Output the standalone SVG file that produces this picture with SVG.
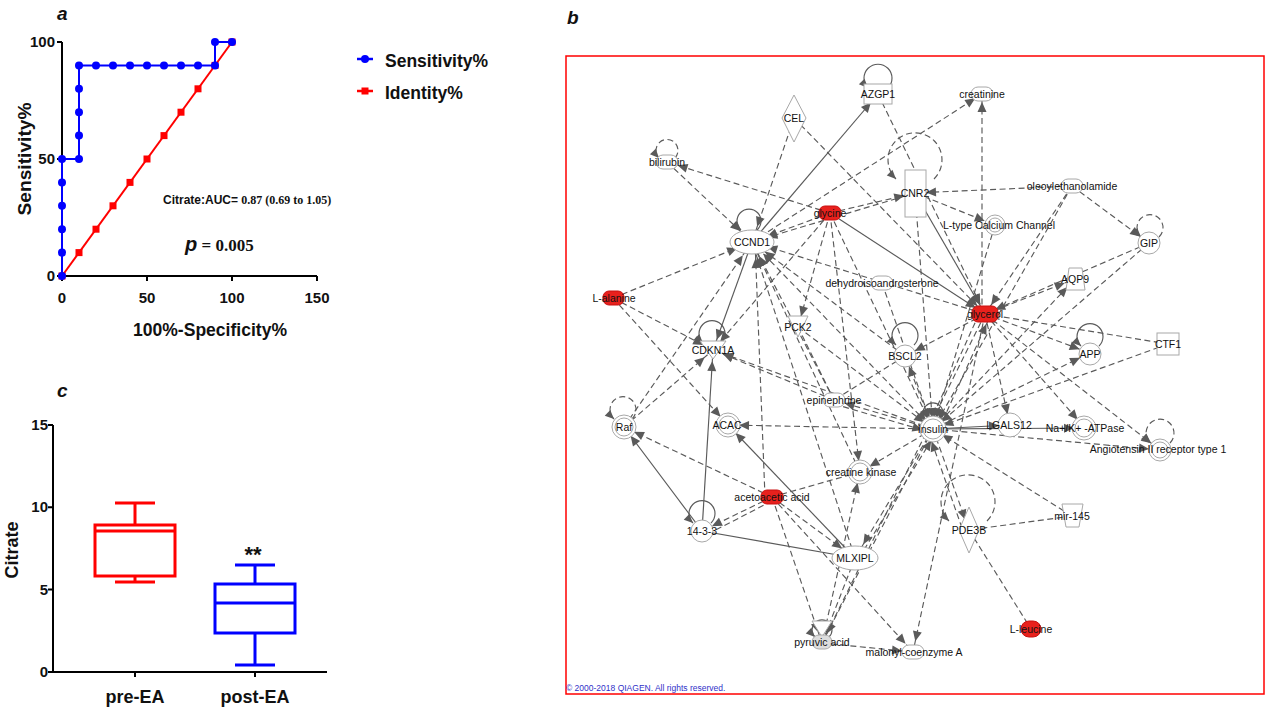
<svg xmlns="http://www.w3.org/2000/svg" width="1269" height="710" viewBox="0 0 1269 710">
<style>
text{font-family:"Liberation Sans",Arial,sans-serif;fill:#111}
.pl{font-size:19px;font-weight:bold;font-style:italic}
.tk{font-size:15px;font-weight:bold;text-anchor:end}
.tx{font-size:15px;font-weight:bold;text-anchor:middle}
.ti{font-size:18px;font-weight:bold;text-anchor:middle}
.lg{font-size:17.5px;font-weight:bold}
.ax{fill:none;stroke:#000;stroke-width:2}
.d{fill:none;stroke:#5a5a5a;stroke-width:1.15;stroke-dasharray:6 3.5}
.s{fill:none;stroke:#5a5a5a;stroke-width:1.15}
.a{marker-end:url(#ah)}
.E{marker-end:url(#ahE)}
.m{marker-end:url(#ahS)}
.l{marker-end:url(#al)}
.n{fill:#fff;stroke:#a8a8a8;stroke-width:1}
.r{fill:#e8211d;stroke:#c81010;stroke-width:1}
.t{font-size:10.5px;text-anchor:middle}
</style>
<defs>
<marker id="ah" markerUnits="userSpaceOnUse" markerWidth="12" markerHeight="12" orient="auto" overflow="visible"><path d="M-21,-4.5L-11,0L-21,4.5z" fill="#5a5a5a"/></marker>
<marker id="ahE" markerUnits="userSpaceOnUse" markerWidth="12" markerHeight="12" orient="auto" overflow="visible"><path d="M-26,-4.5L-16,0L-26,4.5z" fill="#5a5a5a"/></marker>
<marker id="ahS" markerUnits="userSpaceOnUse" markerWidth="12" markerHeight="12" orient="auto" overflow="visible"><path d="M-18,-4.5L-8,0L-18,4.5z" fill="#5a5a5a"/></marker>
<marker id="al" markerUnits="userSpaceOnUse" markerWidth="12" markerHeight="12" orient="auto" overflow="visible"><path d="M-9,-4L0,0L-9,4z" fill="#5a5a5a"/></marker>
</defs>
<rect width="1269" height="710" fill="#fff"/>

<g id="panel-a">
<text class="pl" x="57" y="20">a</text>
<path class="ax" d="M62 42V276H317M57 42H62M57 159H62M57 276H62M62 276V281M147 276V281M232 276V281M317 276V281"/>
<text class="tk" x="55" y="47">100</text>
<text class="tk" x="55" y="164">50</text>
<text class="tk" x="55" y="281">0</text>
<text class="tx" x="62" y="303">0</text>
<text class="tx" x="147" y="303">50</text>
<text class="tx" x="232" y="303">100</text>
<text class="tx" x="317" y="303">150</text>
<text class="ti" x="210" y="336" textLength="154" lengthAdjust="spacingAndGlyphs">100%-Specificity%</text>
<text class="ti" transform="translate(31,159) rotate(-90)" textLength="113" lengthAdjust="spacingAndGlyphs">Sensitivity%</text>
<polyline fill="none" stroke="#f00" stroke-width="2" points="62,276 232,42"/>
<g fill="#f00">
<rect x="58.5" y="272.5" width="7" height="7"/><rect x="75.5" y="249.1" width="7" height="7"/><rect x="92.5" y="225.7" width="7" height="7"/><rect x="109.5" y="202.3" width="7" height="7"/><rect x="126.5" y="178.9" width="7" height="7"/><rect x="143.5" y="155.5" width="7" height="7"/><rect x="160.5" y="132.1" width="7" height="7"/><rect x="177.5" y="108.7" width="7" height="7"/><rect x="194.5" y="85.3" width="7" height="7"/><rect x="211.5" y="61.9" width="7" height="7"/><rect x="228.5" y="38.5" width="7" height="7"/>
</g>
<polyline fill="none" stroke="#00f" stroke-width="2" points="62,276 62,159 79,159 79,65.4 215,65.4 215,42 232,42"/>
<g fill="#00f">
<circle cx="62" cy="276" r="4"/><circle cx="62" cy="252.6" r="4"/><circle cx="62" cy="229.2" r="4"/><circle cx="62" cy="205.8" r="4"/><circle cx="62" cy="182.4" r="4"/><circle cx="62" cy="159" r="4"/><circle cx="79" cy="159" r="4"/><circle cx="79" cy="135.6" r="4"/><circle cx="79" cy="112.2" r="4"/><circle cx="79" cy="88.8" r="4"/><circle cx="79" cy="65.4" r="4"/><circle cx="96" cy="65.4" r="4"/><circle cx="113" cy="65.4" r="4"/><circle cx="130" cy="65.4" r="4"/><circle cx="147" cy="65.4" r="4"/><circle cx="164" cy="65.4" r="4"/><circle cx="181" cy="65.4" r="4"/><circle cx="198" cy="65.4" r="4"/><circle cx="215" cy="65.4" r="4"/><circle cx="215" cy="42" r="4"/><circle cx="232" cy="42" r="4"/>
</g>
<path d="M357 59H373" stroke="#00f" stroke-width="2.5"/><circle cx="365" cy="59" r="4" fill="#00f"/>
<text class="lg" x="385" y="67">Sensitivity%</text>
<path d="M357 91H373" stroke="#f00" stroke-width="2.5"/><rect x="361.5" y="87.5" width="7" height="7" fill="#f00"/>
<text class="lg" x="385" y="99">Identity%</text>
<text x="163" y="204" font-size="12" font-weight="bold">Citrate:AUC= <tspan font-family="'Liberation Serif',serif">0.87 (0.69 to 1.05)</tspan></text>
<text x="185" y="251" font-weight="bold"><tspan font-size="20" font-style="italic">p</tspan><tspan font-family="'Liberation Serif',serif" font-size="17"> = 0.005</tspan></text>
</g>

<g id="panel-c">
<text class="pl" x="57" y="397">c</text>
<path class="ax" d="M53 425V672H327M48 425H53M48 507.3H53M48 589.6H53M48 672H53M135 672V677M255 672V677"/>
<text class="tk" x="48" y="430">15</text>
<text class="tk" x="48" y="512">10</text>
<text class="tk" x="48" y="595">5</text>
<text class="tk" x="48" y="677">0</text>
<text class="ti" transform="translate(18,550) rotate(-90)">Citrate</text>
<g fill="none" stroke="#f00" stroke-width="3">
<rect x="95" y="525" width="80" height="51"/><path d="M95 531H175M135 503V525M135 576V582M115 503H155M115 582H155"/>
</g>
<g fill="none" stroke="#00f" stroke-width="3">
<rect x="215" y="584" width="80" height="49"/><path d="M215 603H295M255 565V584M255 633V665M235 565H275M235 665H275"/>
</g>
<text x="253" y="562" font-size="22" font-weight="bold" text-anchor="middle">**</text>
<text class="ti" x="135" y="703" font-size="17.5">pre-EA</text>
<text class="ti" x="255" y="703" font-size="17.5">post-EA</text>
</g>

<g id="panel-b">
<text class="pl" x="567" y="24">b</text>
<rect x="566" y="56" width="698" height="638" fill="none" stroke="#f00" stroke-width="1.5"/>
<text x="566" y="691" font-size="8.5" style="fill:#3030c8">© 2000-2018 QIAGEN. All rights reserved.</text>
</g>

<g id="connectors">
<path class="d E" d="M667 162L752 242"/>
<path class="d a" d="M830 213L667 162"/>
<path class="d E" d="M794 118L752 242"/>
<path class="d a" d="M794 118L985 314"/>
<path class="s a" d="M752 242L878 94"/>
<path class="d a" d="M878 94L985 314"/>
<path class="d E" d="M830 213L752 242"/>
<path class="d E" d="M915 193L752 242"/>
<path class="d a" d="M830 213L915 193"/>
<path class="s a" d="M830 213L985 314"/>
<path class="d a" d="M830 213L798 327"/>
<path class="d a" d="M830 213L933 429"/>
<path class="d a" d="M830 213L860 472"/>
<path class="d a" d="M830 213L713 350"/>
<path class="d m" d="M982 314L982 94"/>
<path class="d m" d="M752 242L982 94"/>
<path class="d a" d="M1072 186L915 193"/>
<path class="d a" d="M1072 186L1149 243"/>
<path class="d a" d="M1072 186L985 314"/>
<path class="d a" d="M1072 186L933 429"/>
<path class="d a" d="M915 193L995 225"/>
<path class="s a" d="M915 193L985 314"/>
<path class="d a" d="M915 193L933 429"/>
<path class="d a" d="M995 225L933 429"/>
<path class="d a" d="M1149 243L985 314"/>
<path class="d a" d="M1149 243L933 429"/>
<path class="d a" d="M985 314L1075 279"/>
<path class="d a" d="M933 429L1075 279"/>
<path class="d E" d="M985 314L752 242"/>
<path class="d a" d="M882 283L933 429"/>
<path class="d E" d="M613 298L752 242"/>
<path class="d a" d="M613 298L713 350"/>
<path class="d a" d="M613 298L728 425"/>
<path class="d E" d="M624 427L752 242"/>
<path class="d a" d="M624 427L713 350"/>
<path class="s a" d="M752 242L713 350"/>
<path class="s a" d="M702 531L713 350"/>
<path class="s a" d="M702 531L624 427"/>
<path class="d a" d="M772 497L624 427"/>
<path class="d a" d="M772 497L702 531"/>
<path class="d" d="M772 501L706 535"/>
<path class="s a" d="M855 558L728 425"/>
<path class="s" d="M702 531L855 558"/>
<path class="d" d="M772 497L860 472"/>
<path class="d E" d="M772 497L855 558"/>
<path class="d a" d="M772 497L822 643"/>
<path class="d a" d="M772 497L913 652"/>
<path class="d E" d="M765 497L755 242"/>
<path class="d E" d="M933 429L752 242"/>
<path class="d E" d="M834 400L752 242"/>
<path class="d E" d="M905 356L752 242"/>
<path class="d E" d="M855 558L752 242"/>
<path class="d E" d="M860 472L752 242"/>
<path class="d a" d="M834 400L713 350"/>
<path class="d a" d="M933 429L713 350"/>
<path class="d" d="M798 327L834 400"/>
<path class="d a" d="M798 327L933 429"/>
<path class="d" d="M905 356L834 400"/>
<path class="d a" d="M933 429L834 400"/>
<path class="d a" d="M834 404L933 433"/>
<path class="d a" d="M933 429L905 356"/>
<path class="d a" d="M985 314L905 356"/>
<path class="d a" d="M933 429L728 425"/>
<path class="d a" d="M933 429L860 472"/>
<path class="d E" d="M933 429L855 558"/>
<path class="d a" d="M859 558L937 431"/>
<path class="d a" d="M933 429L969 530"/>
<path class="d a" d="M962 528L928 431"/>
<path class="s a" d="M933 429L1010 425"/>
<path class="s a" d="M933 429L1085 428"/>
<path class="d a" d="M933 429L1160 450"/>
<path class="d a" d="M985 314L1010 425"/>
<path class="d a" d="M985 314L1085 428"/>
<path class="d a" d="M985 314L1160 450"/>
<path class="d a" d="M985 314L1090 353"/>
<path class="d" d="M985 314L1168 344"/>
<path class="d a" d="M1168 344L933 429"/>
<path class="d a" d="M933 429L1090 353"/>
<path class="d a" d="M979 314L927 429"/>
<path class="d a" d="M939 429L991 314"/>
<path class="d a" d="M1072 516L933 429"/>
<path class="d" d="M1072 516L969 530"/>
<path class="d" d="M969 530L1031 629"/>
<path class="d a" d="M985 314L913 652"/>
<path class="d a" d="M855 558L822 643"/>
<path class="d a" d="M933 429L822 643"/>
<path class="d a" d="M985 314L822 643"/>
<path class="d a" d="M822 643L860 472"/>
<path class="d a" d="M822 643L913 652"/>
<path class="s l" d="M888 88A14 14 0 1 0 868 88"/>
<path class="d l" d="M675 158A11 11 0 1 0 659 158"/>
<path class="d l" d="M934 179A27 27 0 1 0 896 179"/>
<path class="d l" d="M1159 237A13 13 0 1 0 1141 237"/>
<path class="s l" d="M757 230A12 12 0 1 0 741 230"/>
<path class="s l" d="M721 343A13 13 0 1 0 703 343"/>
<path class="s l" d="M914 345A13 13 0 1 0 896 345"/>
<path class="s l" d="M1099 346A13 13 0 1 0 1081 346"/>
<path class="d l" d="M632 419A13 13 0 1 0 614 419"/>
<path class="d l" d="M1170 443A14 14 0 1 0 1150 443"/>
<path class="s l" d="M711 523A13 13 0 1 0 693 523"/>
<path class="d l" d="M987 521A27 27 0 1 0 949 521"/>
<path class="s l" d="M940 420A10 10 0 1 0 926 420"/>
<path class="s l" d="M829 637A10 10 0 1 0 815 637"/>
</g>

<g id="n-AZGP1"><rect class="n" x="864" y="84" width="28" height="20"/><text class="t" x="878" y="97.5">AZGP1</text></g>
<g id="n-CEL"><polygon class="n" points="794,95 806,118 794,142 782,118"/><text class="t" x="794" y="121.5">CEL</text></g>
<g id="n-bilirubin"><rect class="n" x="656" y="155" width="22" height="14" rx="7"/><text class="t" x="667" y="165.5">bilirubin</text></g>
<g id="n-creatinine"><rect class="n" x="971" y="87" width="22" height="14" rx="7"/><text class="t" x="982" y="97.5">creatinine</text></g>
<g id="n-CNR2"><rect class="n" x="905" y="170" width="21" height="47"/><text class="t" x="915" y="196.5">CNR2</text></g>
<g id="n-oleoylethanolamide"><rect class="n" x="1061" y="179" width="22" height="14" rx="7"/><text class="t" x="1072" y="189.5">oleoylethanolamide</text></g>
<g id="n-Ltype"><circle class="n" cx="995" cy="225" r="10"/><circle class="n" cx="995" cy="225" r="7"/><text class="t" x="999" y="228.5">L-type Calcium Channel</text></g>
<g id="n-GIP"><circle class="n" cx="1149" cy="243" r="11"/><text class="t" x="1149" y="246.5">GIP</text></g>
<g id="n-AQP9"><polygon class="n" points="1069,268 1082,268 1085,290 1066,290"/><text class="t" x="1075" y="282.5">AQP9</text></g>
<g id="n-glycine"><rect class="r" x="819" y="206" width="22" height="14" rx="6"/><text class="t" x="830" y="216.5">glycine</text></g>
<g id="n-CCND1"><ellipse class="n" cx="752" cy="242" rx="22" ry="12"/><text class="t" x="752" y="245.5">CCND1</text></g>
<g id="n-dehydroisoandrosterone"><rect class="n" x="871" y="276" width="22" height="14" rx="7"/><text class="t" x="882" y="286.5">dehydroisoandrosterone</text></g>
<g id="n-Lalanine"><rect class="r" x="603" y="291" width="21" height="14" rx="6"/><text class="t" x="614" y="301.5">L-alanine</text></g>
<g id="n-CDKN1A"><polygon class="n" points="700,341 726,341 713,359"/><text class="t" x="713" y="353.5">CDKN1A</text></g>
<g id="n-PCK2"><polygon class="n" points="788,316 808,316 798,337"/><text class="t" x="798" y="330.5">PCK2</text></g>
<g id="n-BSCL2"><circle class="n" cx="905" cy="356" r="11"/><text class="t" x="905" y="359.5">BSCL2</text></g>
<g id="n-glycerol"><rect class="r" x="972" y="306" width="26" height="16" rx="6"/><text class="t" x="985" y="318">glycerol</text></g>
<g id="n-APP"><circle class="n" cx="1090" cy="354" r="11"/><text class="t" x="1090" y="357.5">APP</text></g>
<g id="n-CTF1"><rect class="n" x="1157" y="333" width="22" height="22"/><text class="t" x="1168" y="347.5">CTF1</text></g>
<g id="n-epinephrine"><rect class="n" x="823" y="393" width="22" height="14" rx="7"/><text class="t" x="834" y="403.5">epinephrine</text></g>
<g id="n-Raf"><circle class="n" cx="624" cy="427" r="12"/><circle class="n" cx="624" cy="427" r="9"/><text class="t" x="624" y="430.5">Raf</text></g>
<g id="n-ACAC"><circle class="n" cx="728" cy="425" r="12"/><circle class="n" cx="728" cy="425" r="9"/><text class="t" x="727" y="428.5">ACAC</text></g>
<g id="n-Insulin"><circle class="n" cx="933" cy="429" r="13"/><circle class="n" cx="933" cy="429" r="10"/><text class="t" x="933" y="432.5">Insulin</text></g>
<g id="n-LGALS12"><circle class="n" cx="1010" cy="425" r="12"/><text class="t" x="1009" y="428.5">LGALS12</text></g>
<g id="n-NaK"><circle class="n" cx="1084" cy="428" r="12"/><circle class="n" cx="1084" cy="428" r="9"/><text class="t" x="1085" y="431.5">Na+/K+ -ATPase</text></g>
<g id="n-Angiotensin"><circle class="n" cx="1160" cy="450" r="11"/><circle class="n" cx="1160" cy="450" r="8"/><text class="t" x="1158" y="452.5">Angiotensin II receptor type 1</text></g>
<g id="n-creatinekinase"><circle class="n" cx="860" cy="472" r="12"/><circle class="n" cx="860" cy="472" r="9"/><text class="t" x="861" y="476">creatine kinase</text></g>
<g id="n-acetoacetic"><rect class="r" x="761" y="490" width="22" height="14" rx="6"/><text class="t" x="772" y="500.5">acetoacetic acid</text></g>
<g id="n-1433"><circle class="n" cx="702" cy="531" r="11"/><text class="t" x="702" y="534.5">14-3-3</text></g>
<g id="n-MLXIPL"><ellipse class="n" cx="855" cy="558" rx="23" ry="12"/><text class="t" x="855" y="561.5">MLXIPL</text></g>
<g id="n-PDE3B"><polygon class="n" points="969,507 979,530 969,553 959,530"/><text class="t" x="969" y="533.5">PDE3B</text></g>
<g id="n-mir145"><polygon class="n" points="1062,504 1083,504 1079,527 1066,527"/><text class="t" x="1072" y="519.5">mir-145</text></g>
<g id="n-Lleucine"><rect class="r" x="1021" y="621" width="20" height="16" rx="8"/><text class="t" x="1031" y="632.5">L-leucine</text></g>
<g id="n-pyruvic"><polygon class="n" points="812,621 832,621 822,637"/><rect x="812" y="635" width="20" height="14" rx="7" fill="#ddd" stroke="#aaa"/><text class="t" x="822" y="645.5">pyruvic acid</text></g>
<g id="n-malonyl"><rect class="n" x="902" y="645" width="22" height="14" rx="7"/><text class="t" x="914" y="655.5">malonyl-coenzyme A</text></g>
</svg>
